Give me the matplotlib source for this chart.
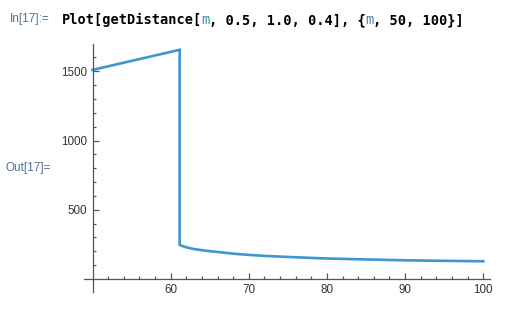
import matplotlib.pyplot as plt

# values
m_vals = [50, 61.15, 61.15, 61.5, 62, 62.5, 63, 64, 65, 66, 68, 70, 72, 75,
          78, 80, 85, 90, 95, 100]
distance = [1510, 1655, 247, 238, 229, 222, 216, 208, 201, 195, 183, 174, 167,
            159, 152, 148, 141, 135, 131, 128]

x_major = [60, 70, 80, 90, 100]
y_major = [500, 1000, 1500]

W, H = 521, 311
line_color = '#3F97CF'
label_color = '#4F6F93'
axis_color = '#555555'

fig = plt.figure(figsize=(W / 100, H / 100), dpi=100)
ax = fig.add_axes([84 / W, 1 - 292 / H, (490 - 84) / W, (292 - 44) / H])

ax.plot(m_vals, distance, color=line_color, linewidth=1.9, solid_joinstyle='miter')

ax.set_xlim(48.91, 100.86)
ax.set_ylim(-94, 1697)

for side in ['top', 'right']:
    ax.spines[side].set_visible(False)
ax.spines['left'].set_position(('data', 50))
ax.spines['bottom'].set_position(('data', 0))
for side in ['left', 'bottom']:
    ax.spines[side].set_color(axis_color)
    ax.spines[side].set_linewidth(0.9)

ax.set_xticks(x_major)
ax.set_xticks([v for v in range(52, 100, 2) if v % 10], minor=True)
ax.set_yticks(y_major)
ax.set_yticks([v for v in range(100, 1700, 100) if v % 500], minor=True)
ax.tick_params(which='both', direction='in', color=axis_color, width=0.9,
               labelsize=8.4, labelcolor='#333333')
ax.tick_params(which='major', length=4.5)
ax.tick_params(which='minor', length=2.5)
ax.tick_params(axis='x', pad=3.5)
ax.tick_params(axis='y', pad=4)
for lbl in ax.get_xticklabels() + ax.get_yticklabels():
    lbl.set_family('Liberation Sans')

# notebook cell labels and input line
fig.text(10 / W, 1 - 19 / H, 'In[17]:=', color=label_color, fontsize=8.5,
         family='Liberation Sans', va='center', ha='left')
fig.text(5 / W, 1 - 168 / H, 'Out[17]=', color=label_color, fontsize=8.5,
         family='Liberation Sans', va='center', ha='left')

code = [('Plot[getDistance[', 'k'), ('m', 't'), (', 0.5, 1.0, 0.4], {', 'k'),
        ('m', 't'), (', 50, 100}]', 'k')]
fsize = 9.8
char_px = 0.602 * fsize * 100 / 72
x0 = 62
for piece, kind in code:
    if kind == 'k':
        fig.text(x0 / W, 1 - 20 / H, piece, color='black', fontsize=fsize,
                 family='DejaVu Sans Mono', weight='bold', va='center', ha='left')
    else:
        fig.text(x0 / W, 1 - 20 / H, piece, color='#3C8FA6', fontsize=fsize,
                 family='DejaVu Sans Mono', va='center', ha='left')
    x0 += len(piece) * char_px

fig.savefig('out.png', dpi=100)
